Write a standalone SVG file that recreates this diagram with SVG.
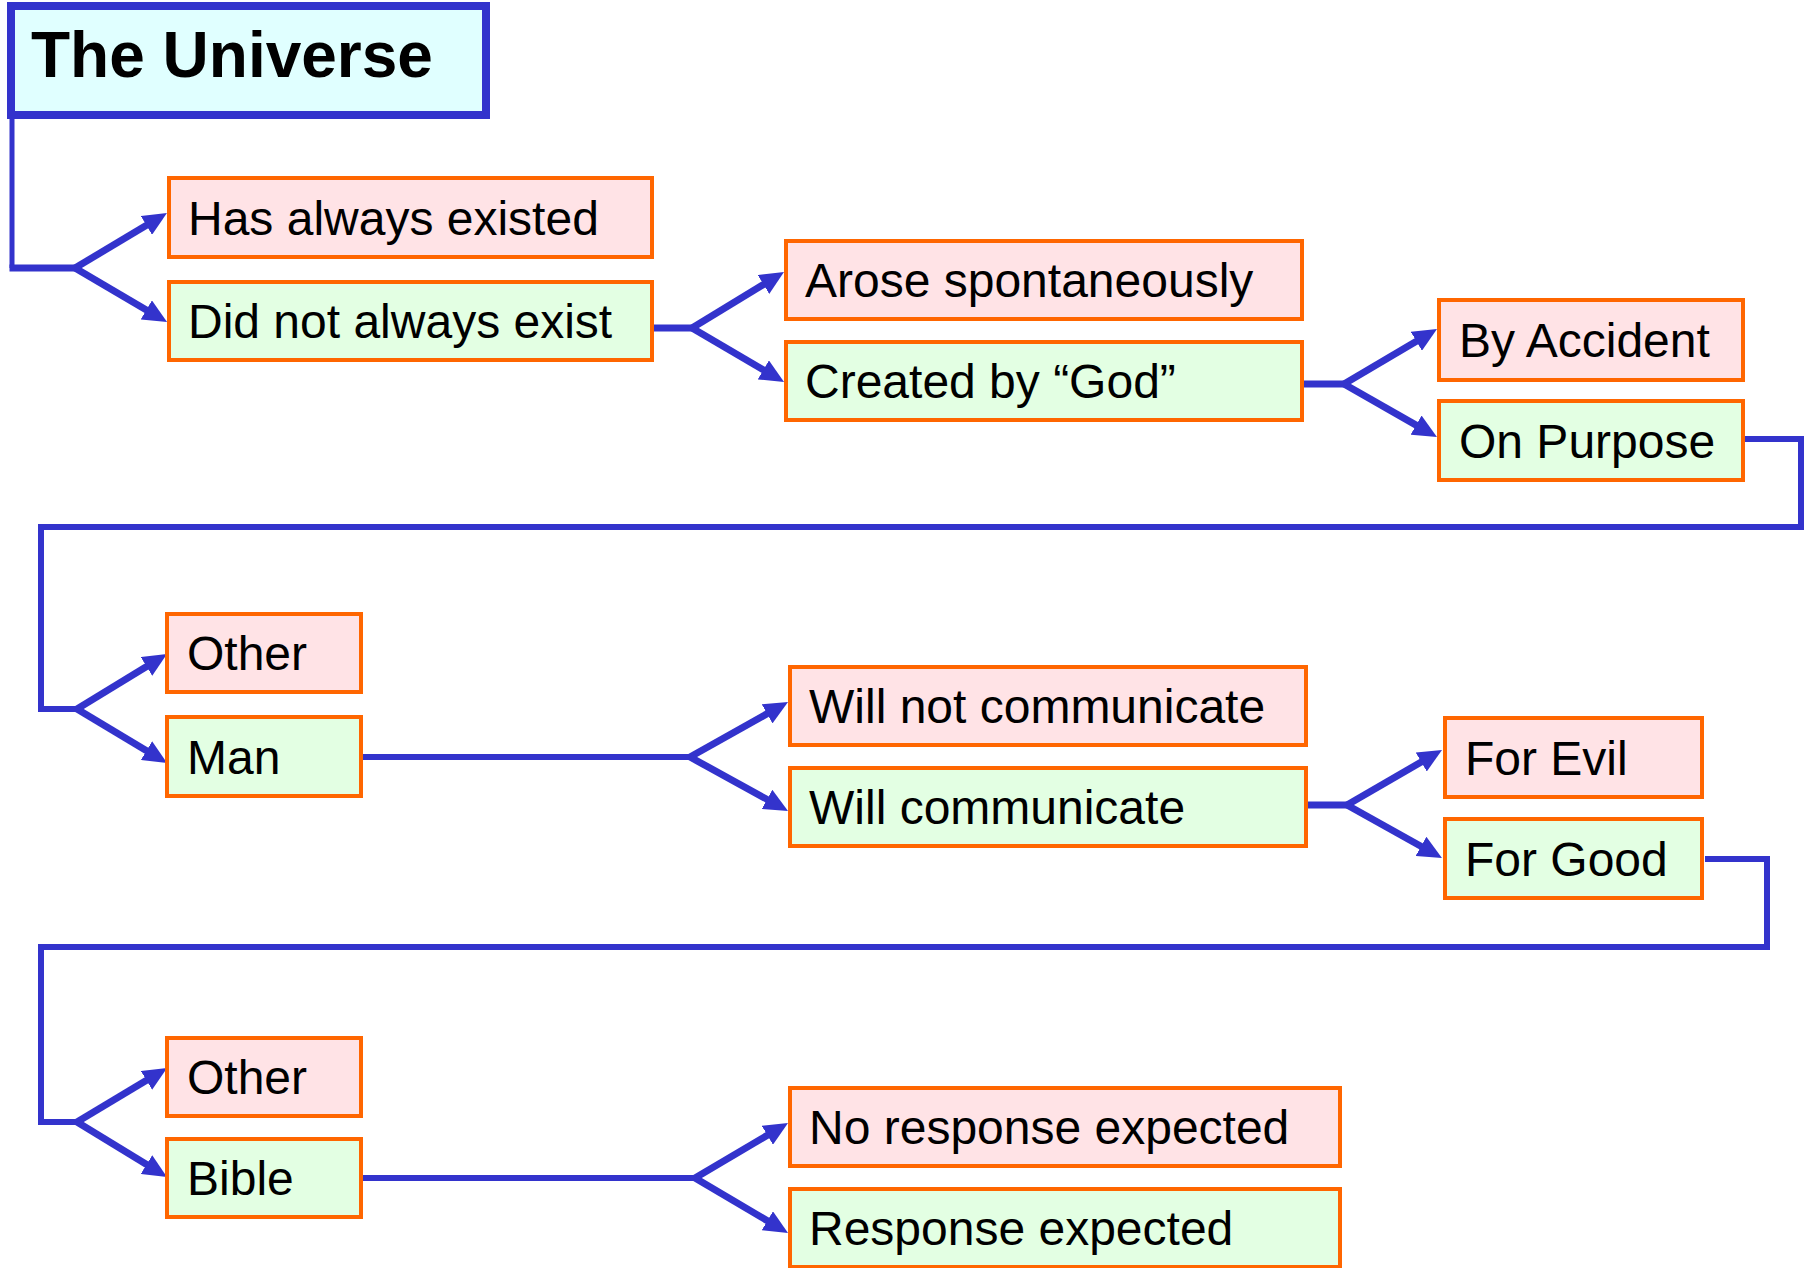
<svg xmlns="http://www.w3.org/2000/svg" width="1806" height="1268" viewBox="0 0 1806 1268">
<style>
.no rect{stroke:#FF6600;stroke-width:4}
.pink rect{fill:#FFE3E6}
.green rect{fill:#E3FFE3}
.no text{font-family:"Liberation Sans",Arial,sans-serif;font-size:48px;fill:#000}
.c{fill:none;stroke:#3333CC;stroke-width:6;stroke-linejoin:miter}
.br{fill:none;stroke:#3333CC;stroke-width:7;marker-end:url(#ah)}
</style>
<defs>
<marker id="ah" viewBox="0 0 24 22" refX="4" refY="11" markerWidth="24" markerHeight="22" markerUnits="userSpaceOnUse" orient="auto">
<path d="M0,0 L24,11 L0,22 z" fill="#3333CC"/>
</marker>
</defs>
<rect width="1806" height="1268" fill="#FFFFFF"/>
<g id="connectors">
<path class="c" d="M12,119 V268" style="stroke-width:5"/>
<path class="c" d="M9.5,268 H76" style="stroke-width:7"/>
<path class="br" d="M75,268 L149.8,223.3"/>
<path class="br" d="M75,268 L149.8,311.9"/>
<path class="c" d="M654,328 H693" style="stroke-width:7"/>
<path class="br" d="M692,328 L766.9,282.4"/>
<path class="br" d="M692,328 L766.8,371.9"/>
<path class="c" d="M1304,384 H1345" style="stroke-width:7"/>
<path class="br" d="M1344,384 L1419.8,339.2"/>
<path class="br" d="M1344,384 L1419.6,427.1"/>
<path class="c" d="M1745,439 H1801 V527 H41 V709 H78"/>
<path class="br" d="M77,709 L149.9,664.4"/>
<path class="br" d="M77,709 L149.9,752.7"/>
<path class="c" d="M363,757 H691"/>
<path class="br" d="M690,757 L770.6,711.8"/>
<path class="br" d="M690,757 L770.5,801.3"/>
<path class="c" d="M1308,805 H1348" style="stroke-width:7"/>
<path class="br" d="M1347,805 L1424.7,760.0"/>
<path class="br" d="M1347,805 L1424.5,848.3"/>
<path class="c" d="M1705,859 H1767 V947 H41 V1122 H78"/>
<path class="br" d="M77,1122 L149.9,1078.3"/>
<path class="br" d="M77,1122 L149.9,1166.6"/>
<path class="c" d="M363,1178 H696"/>
<path class="br" d="M695,1178 L770.8,1133.2"/>
<path class="br" d="M695,1178 L770.8,1222.8"/>
</g>
<g id="title">
<rect x="11" y="6" width="475" height="109" fill="#E0FFFF" stroke="#3333CC" stroke-width="8"/>
<text x="31" y="77" font-family="'Liberation Sans',Arial,sans-serif" font-size="64" font-weight="bold" fill="#000">The Universe</text>
</g>
<g id="n-has-always-existed" class="no pink"><rect x="169" y="178" width="483" height="79"/><text x="188" y="234.5">Has always existed</text></g>
<g id="n-did-not-always-exist" class="no green"><rect x="169" y="282" width="483" height="78"/><text x="188" y="338">Did not always exist</text></g>
<g id="n-arose-spontaneously" class="no pink"><rect x="786" y="241" width="516" height="78"/><text x="805" y="297">Arose spontaneously</text></g>
<g id="n-created-by-god" class="no green"><rect x="786" y="342" width="516" height="78"/><text x="805" y="398">Created by “God”</text></g>
<g id="n-by-accident" class="no pink"><rect x="1439" y="300" width="304" height="80"/><text x="1459" y="357">By Accident</text></g>
<g id="n-on-purpose" class="no green"><rect x="1439" y="401" width="304" height="79"/><text x="1459" y="457.5">On Purpose</text></g>
<g id="n-other-1" class="no pink"><rect x="167" y="614" width="194" height="78"/><text x="187" y="670">Other</text></g>
<g id="n-man" class="no green"><rect x="167" y="717" width="194" height="79"/><text x="187" y="773.5">Man</text></g>
<g id="n-will-not-communicate" class="no pink"><rect x="790" y="667" width="516" height="78"/><text x="809" y="723">Will not communicate</text></g>
<g id="n-will-communicate" class="no green"><rect x="790" y="768" width="516" height="78"/><text x="809" y="824">Will communicate</text></g>
<g id="n-for-evil" class="no pink"><rect x="1445" y="718" width="257" height="79"/><text x="1465" y="774.5">For Evil</text></g>
<g id="n-for-good" class="no green"><rect x="1445" y="819" width="257" height="79"/><text x="1465" y="875.5">For Good</text></g>
<g id="n-other-2" class="no pink"><rect x="167" y="1038" width="194" height="78"/><text x="187" y="1094">Other</text></g>
<g id="n-bible" class="no green"><rect x="167" y="1139" width="194" height="78"/><text x="187" y="1195">Bible</text></g>
<g id="n-no-response-expected" class="no pink"><rect x="790" y="1088" width="550" height="78"/><text x="809" y="1144">No response expected</text></g>
<g id="n-response-expected" class="no green"><rect x="790" y="1189" width="550" height="78"/><text x="809" y="1245">Response expected</text></g>
</svg>
